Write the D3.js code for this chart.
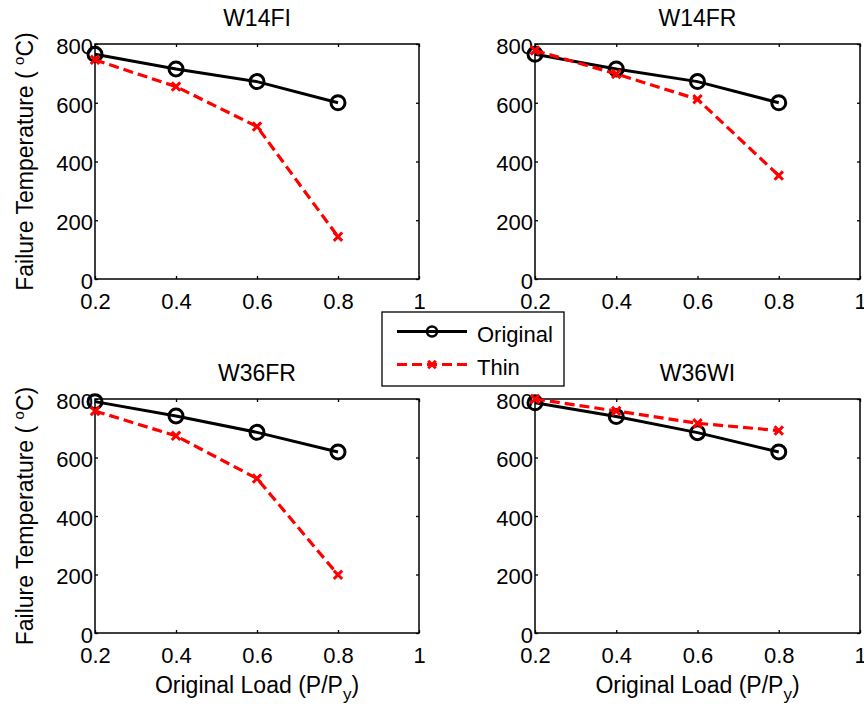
<!DOCTYPE html>
<html>
<head>
<meta charset="utf-8">
<script src="https://cdn.jsdelivr.net/npm/d3@7"></script>
<style>
  body { margin: 0; background: #fff; }
  text { font-family: "Liberation Sans", Arial, sans-serif; fill: #000; }
</style>
</head>
<body>
<svg id="chart" width="864" height="708"></svg>
<script>
// data
var loads = [0.2, 0.4, 0.6, 0.8];
var xTicks = [0.2, 0.4, 0.6, 0.8, 1];
var yTicks = [0, 200, 400, 600, 800];
var titles = ["W14FI", "W14FR", "W36FR", "W36WI"];
var original = [
  [765, 715, 672, 600],
  [765, 715, 672, 600],
  [791, 742, 686, 619],
  [787, 740, 685, 619]
];
var thin = [
  [746, 655, 519, 144],
  [778, 698, 612, 352],
  [759, 674, 528, 199],
  [800, 759, 717, 692]
];
var seriesNames = ["Original", "Thin"];

var svg = d3.select("#chart");
svg.append("rect").attr("width", 864).attr("height", 708).attr("fill", "#fff");

// panel boxes (left, right, top, bottom)
var panels = [
  {x0: 95, x1: 419, y0: 44, y1: 279},
  {x0: 535, x1: 860, y0: 44, y1: 279},
  {x0: 95, x1: 419, y0: 399, y1: 633},
  {x0: 535, x1: 860, y0: 399, y1: 633}
];

var redDash = "10,5";

function xMark(g, cx, cy, s, w) {
  g.append("path")
    .attr("d", "M" + (cx - s) + "," + (cy - s) + "L" + (cx + s) + "," + (cy + s) +
               "M" + (cx - s) + "," + (cy + s) + "L" + (cx + s) + "," + (cy - s))
    .attr("stroke", "#ff0000").attr("stroke-width", w).attr("fill", "none");
}

panels.forEach(function(p, k) {
  var x = d3.scaleLinear().domain([0.2, 1]).range([p.x0, p.x1]);
  var y = d3.scaleLinear().domain([0, 800]).range([p.y1, p.y0]);
  var g = svg.append("g");

  // axes with inward ticks
  g.append("g").attr("transform", "translate(0," + p.y1 + ")")
    .call(d3.axisBottom(x).tickValues(xTicks).tickSize(-3).tickPadding(14)
      .tickFormat(function(d) { return d === 1 ? "1" : d3.format(".1f")(d); }));
  var ay = g.append("g").attr("transform", "translate(" + p.x0 + ",0)")
    .call(d3.axisLeft(y).tickValues(yTicks).tickSize(-3).tickPadding(2));
  g.append("g").attr("transform", "translate(0," + p.y0 + ")")
    .call(d3.axisTop(x).tickValues(xTicks).tickSize(-3).tickFormat(""));
  g.append("g").attr("transform", "translate(" + p.x1 + ",0)")
    .call(d3.axisRight(y).tickValues(yTicks).tickSize(-3).tickFormat(""));
  g.selectAll(".domain").remove();
  g.selectAll(".tick line").attr("stroke", "#000").attr("stroke-width", 1.3);
  g.selectAll(".tick text").style("font-size", "22px")
    .style("font-family", "'Liberation Sans', Arial, sans-serif").attr("fill", "#000");
  ay.selectAll(".tick text").attr("dy", "0.42em");

  g.append("rect")
    .attr("x", p.x0).attr("y", p.y0)
    .attr("width", p.x1 - p.x0).attr("height", p.y1 - p.y0)
    .attr("fill", "none").attr("stroke", "#000").attr("stroke-width", 1.5);

  g.append("text")
    .attr("x", (p.x0 + p.x1) / 2).attr("y", p.y0 - 18)
    .attr("text-anchor", "middle").style("font-size", "23px")
    .text(titles[k]);

  var line = d3.line().x(function(d, i) { return x(loads[i]); }).y(function(d) { return y(d); });

  g.append("path").datum(original[k])
    .attr("d", line).attr("fill", "none")
    .attr("stroke", "#000").attr("stroke-width", 3);
  original[k].forEach(function(v, i) {
    g.append("circle").attr("cx", x(loads[i])).attr("cy", y(v)).attr("r", 7)
      .attr("fill", "none").attr("stroke", "#000").attr("stroke-width", 3);
  });

  g.append("path").datum(thin[k])
    .attr("d", line).attr("fill", "none")
    .attr("stroke", "#ff0000").attr("stroke-width", 3.2)
    .attr("stroke-dasharray", redDash);
  thin[k].forEach(function(v, i) {
    xMark(g, x(loads[i]), y(v), 4.2, 3);
  });

  // axis labels
  if (k % 2 === 0) {
    var yl = g.append("text")
      .attr("transform", "translate(33," + ((p.y0 + p.y1) / 2) + ") rotate(-90)")
      .attr("text-anchor", "middle").style("font-size", "23px");
    yl.append("tspan").text("Failure Temperature ( ");
    yl.append("tspan").attr("dy", -9).style("font-size", "15px").text("o");
    yl.append("tspan").attr("dy", 9).text("C)");
  }
  if (k >= 2) {
    var xl = g.append("text")
      .attr("x", (p.x0 + p.x1) / 2).attr("y", 693)
      .attr("text-anchor", "middle").style("font-size", "23px");
    xl.append("tspan").text("Original Load (P/P");
    xl.append("tspan").attr("dy", 7).style("font-size", "17px").text("y");
    xl.append("tspan").attr("dy", -7).text(")");
  }
});

// legend
var lg = svg.append("g");
lg.append("rect").attr("x", 382).attr("y", 312).attr("width", 182).attr("height", 74)
  .attr("fill", "#fff").attr("stroke", "#000").attr("stroke-width", 1.3);
var rows = [331.5, 364.5];
seriesNames.forEach(function(name, i) {
  var ly = rows[i];
  var ln = lg.append("line").attr("x1", 397).attr("x2", 467).attr("y1", ly).attr("y2", ly)
    .attr("stroke-width", 3);
  if (i === 0) {
    ln.attr("stroke", "#000");
    lg.append("circle").attr("cx", 432).attr("cy", ly).attr("r", 5)
      .attr("fill", "none").attr("stroke", "#000").attr("stroke-width", 2.5);
  } else {
    ln.attr("stroke", "#ff0000").attr("stroke-dasharray", redDash);
    xMark(lg, 432, ly, 3.8, 3);
  }
  lg.append("text").attr("x", 477).attr("y", ly + 10)
    .style("font-size", "22px").text(name);
});
</script>
</body>
</html>
